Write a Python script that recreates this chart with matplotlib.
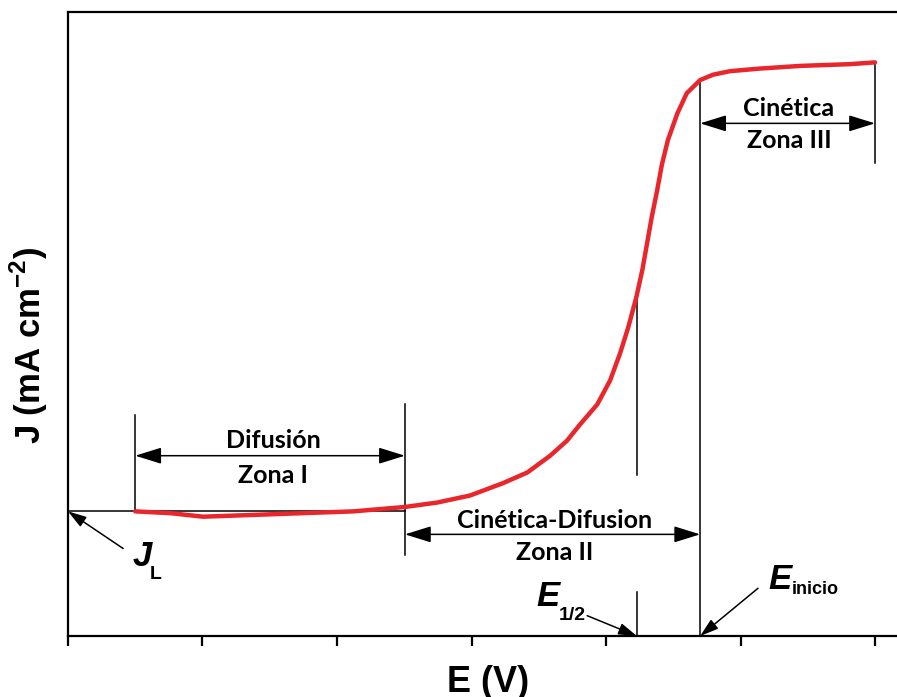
import numpy as np
import matplotlib
import matplotlib.pyplot as plt

matplotlib.use('Agg')

# Curve: potential (V) and current density (mA cm-2)
E_vals = [0.100, 0.152, 0.201, 0.275, 0.349, 0.424, 0.501, 0.549, 0.598, 0.647,
          0.683, 0.717, 0.742, 0.761, 0.787, 0.806, 0.821, 0.833, 0.845, 0.854,
          0.861, 0.868, 0.876, 0.883, 0.892, 0.906, 0.920, 0.940, 0.959, 0.984,
          1.029, 1.089, 1.163, 1.200]
J_vals = [-4.99, -5.01, -5.05, -5.03, -5.01, -4.99, -4.94, -4.89, -4.81, -4.67,
          -4.55, -4.36, -4.19, -4.01, -3.78, -3.51, -3.20, -2.91, -2.57, -2.26,
          -1.96, -1.66, -1.36, -1.07, -0.79, -0.49, -0.26, -0.11, -0.05, -0.01,
          0.02, 0.05, 0.07, 0.09]

# Characteristic points
J_L = -4.99
E_zone1 = [0.100, 0.501]
E_half = 0.846
E_onset = 0.940
E_end = 1.200
x_ticks = [0.0, 0.2, 0.4, 0.6, 0.8, 1.0, 1.2]

X_LIM = (0.0, 1.2327)
Y_LIM = (-6.40, 0.66)

txt_font = 'Lato'
lbl_font = 'Liberation Sans'

plt.rcParams['mathtext.fontset'] = 'custom'
plt.rcParams['mathtext.rm'] = 'Liberation Sans'
plt.rcParams['mathtext.bf'] = 'Liberation Sans:bold'


def main():
    fig = plt.figure(figsize=(8.97, 6.97), dpi=100)
    ax = fig.add_axes([0.0758, 0.0875, 1.0 - 0.0758, 0.9828 - 0.0875])

    ax.plot(E_vals, J_vals, color='#E8262B', linewidth=3.2, solid_capstyle='round',
            solid_joinstyle='round', zorder=3)

    ax.set_xlim(*X_LIM)
    ax.set_ylim(*Y_LIM)

    # frame: left, top, bottom only
    ax.spines['right'].set_visible(False)
    for s in ['left', 'top', 'bottom']:
        ax.spines[s].set_linewidth(1.6)
    ax.set_xticks(x_ticks)
    ax.set_xticklabels([])
    ax.set_yticks([])
    ax.tick_params(axis='x', direction='out', length=7, width=1.6)

    ax.set_ylabel('J (mA cm$^{\\mathbf{-2}}$)', fontsize=25, fontweight='bold', family=lbl_font)
    ax.yaxis.set_label_coords(-0.022, 0.466)
    ax.set_xlabel('E (V)', fontsize=26, fontweight='bold', family=lbl_font)
    ax.xaxis.set_label_coords(0.507, -0.046)

    lw = 1.1
    dbl = dict(arrowstyle='<|-|>,head_length=0.9,head_width=0.28', color='black', lw=lw,
               shrinkA=0, shrinkB=0, mutation_scale=18)
    ptr = dict(arrowstyle='-|>,head_length=0.7,head_width=0.22', color='black', lw=lw,
               shrinkA=0, shrinkB=0, mutation_scale=16)

    # J_L horizontal line
    ax.plot([X_LIM[0], E_zone1[1]], [J_L, J_L], color='black', lw=lw, zorder=2)

    # Zona I
    ax.plot([E_zone1[0], E_zone1[0]], [-3.90, -4.98], color='black', lw=lw)
    ax.plot([E_zone1[1], E_zone1[1]], [-3.77, -5.48], color='black', lw=lw)
    ax.annotate('', xy=(E_zone1[0], -4.36), xytext=(E_zone1[1], -4.36), arrowprops=dbl)
    ax.text(0.305, -4.19, 'Difusión', ha='center', va='center', fontsize=18,
            fontweight='bold', family=txt_font)
    ax.text(0.305, -4.58, 'Zona I', ha='center', va='center', fontsize=18,
            fontweight='bold', family=txt_font)

    # Zona II
    ax.annotate('', xy=(E_zone1[1], -5.25), xytext=(E_onset, -5.25), arrowprops=dbl)
    ax.text(0.724, -5.09, 'Cinética-Difusion', ha='center', va='center', fontsize=18,
            fontweight='bold', family=txt_font)
    ax.text(0.724, -5.45, 'Zona II', ha='center', va='center', fontsize=18,
            fontweight='bold', family=txt_font)

    # Zona III
    ax.plot([E_onset, E_onset], [-0.11, Y_LIM[0]], color='black', lw=lw)
    ax.plot([E_end, E_end], [0.09, -1.05], color='black', lw=lw)
    ax.annotate('', xy=(E_onset, -0.60), xytext=(E_end, -0.60), arrowprops=dbl)
    ax.text(1.072, -0.43, 'Cinética', ha='center', va='center', fontsize=18,
            fontweight='bold', family=txt_font)
    ax.text(1.072, -0.79, 'Zona III', ha='center', va='center', fontsize=18,
            fontweight='bold', family=txt_font)

    # E 1/2 marker
    ax.plot([E_half, E_half], [-2.57, -4.58], color='black', lw=lw)
    ax.plot([E_half, E_half], [-5.90, Y_LIM[0]], color='black', lw=lw)
    ax.annotate('', xy=(E_half, Y_LIM[0]), xytext=(0.772, -6.17), arrowprops=ptr)
    ax.text(0.714, -5.95, 'E', ha='center', va='center', fontsize=25,
            fontweight='bold', style='italic', family=lbl_font)
    ax.text(0.750, -6.17, '1/2', ha='center', va='center', fontsize=14,
            fontweight='bold', family=lbl_font)

    # E inicio marker
    ax.annotate('', xy=(E_onset, Y_LIM[0]), xytext=(1.026, -5.86), arrowprops=ptr)
    ax.text(1.058, -5.76, 'E', ha='center', va='center', fontsize=25,
            fontweight='bold', style='italic', family=lbl_font)
    ax.text(1.111, -5.87, 'inicio', ha='center', va='center', fontsize=13,
            fontweight='bold', family=lbl_font)

    # J_L marker
    ax.annotate('', xy=(X_LIM[0], J_L), xytext=(0.082, -5.41), arrowprops=ptr)
    ax.text(0.110, -5.50, 'J', ha='center', va='center', fontsize=25,
            fontweight='bold', style='italic', family=lbl_font)
    ax.text(0.131, -5.70, 'L', ha='center', va='center', fontsize=14,
            fontweight='bold', family=lbl_font)

    fig.savefig('out.png', dpi=100)


if __name__ == "__main__":
    main()
